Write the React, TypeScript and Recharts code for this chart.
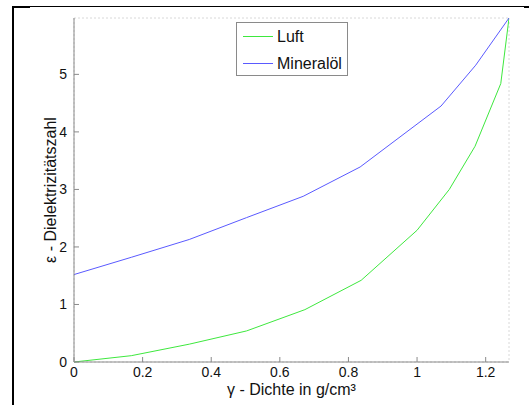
import { CartesianGrid, Label, Line, LineChart, XAxis, YAxis } from "recharts";

// Luft (air) curve
const LUFT_X = [0, 0.167, 0.336, 0.503, 0.673, 0.837, 1.0, 1.094, 1.169, 1.244, 1.268];
const LUFT_Y = [0, 0.11, 0.31, 0.54, 0.91, 1.42, 2.29, 3.0, 3.75, 4.84, 5.98];

// Mineralöl curve
const OEL_X = [0, 0.167, 0.336, 0.503, 0.668, 0.834, 1.07, 1.171, 1.268];
const OEL_Y = [1.52, 1.82, 2.13, 2.51, 2.88, 3.39, 4.45, 5.16, 5.98];

const X_TICKS = [0, 0.2, 0.4, 0.6, 0.8, 1, 1.2];
const Y_TICKS = [0, 1, 2, 3, 4, 5];

const luft = LUFT_X.map((x, i) => ({ x, y: LUFT_Y[i] }));
const oel = OEL_X.map((x, i) => ({ x, y: OEL_Y[i] }));

const FONT = '"Liberation Sans", Arial, sans-serif';
const AXIS = "#8a8a8a";
const GREEN = "#3ee83e";
const BLUE = "#5a5aff";

function LegendBox() {
  const row = (color: string, text: string) => (
    <div style={{ display: "flex", alignItems: "center", height: 27 }}>
      <div style={{ width: 30, height: 1, background: color, marginRight: 4 }} />
      <span>{text}</span>
    </div>
  );
  return (
    <div
      style={{
        position: "absolute",
        left: 236,
        top: 22,
        width: 112,
        height: 54,
        boxSizing: "border-box",
        border: `1px solid ${AXIS}`,
        background: "#fff",
        padding: "0 0 0 6px",
        fontFamily: FONT,
        fontSize: 16,
        color: "#111",
        lineHeight: "27px",
      }}
    >
      {row(GREEN, "Luft")}
      {row(BLUE, "Mineralöl")}
    </div>
  );
}

export default function App() {
  const tick = { fill: "#111", fontSize: 14, fontFamily: FONT };
  const labelStyle = { fill: "#111", fontSize: 16, fontFamily: FONT };
  return (
    <div style={{ position: "fixed", left: 0, top: 0, width: 529, height: 405, background: "#fff" }}>
      <div style={{ position: "absolute", left: 12, top: 6, width: 2, height: 399, background: "#000" }} />
      <div style={{ position: "absolute", left: 12, top: 6, width: 513, height: 1, background: "#000" }} />
      <div style={{ position: "absolute", left: 12, top: 6, width: 18, height: 2, background: "#000" }} />
      <div style={{ position: "absolute", left: 524, top: 6, width: 5, height: 2, background: "#000" }} />
      <LineChart width={529} height={405} margin={{ top: 18, right: 20, bottom: 13, left: 0 }} style={{ position: "absolute", left: 0, top: 0 }}>
        <CartesianGrid stroke="#d8d8d8" strokeDasharray="2 2" horizontal vertical />
        <XAxis
          xAxisId="b"
          type="number"
          dataKey="x"
          domain={[0, "dataMax"]}
          ticks={X_TICKS}
          allowDataOverflow
          height={30}
          stroke={AXIS}
          tick={tick}
          tickSize={-5}
          tickMargin={10}
        >
          <Label value="γ  - Dichte in g/cm³" position="center" dy={12} style={labelStyle} />
        </XAxis>
        <XAxis
          xAxisId="t"
          orientation="top"
          type="number"
          dataKey="x"
          domain={[0, "dataMax"]}
          ticks={X_TICKS}
          height={0}
          stroke={AXIS}
          tick={false}
          tickSize={-5}
        />
        <YAxis
          yAxisId="l"
          type="number"
          domain={[0, "dataMax"]}
          ticks={Y_TICKS}
          width={74}
          stroke={AXIS}
          tick={tick}
          tickSize={-5}
          tickMargin={12}
        >
          <Label value="ε -  Dielektrizitätszahl" position="center" angle={-90} dx={13} dy={0} style={labelStyle} />
        </YAxis>
        <YAxis
          yAxisId="r"
          orientation="right"
          type="number"
          domain={[0, "dataMax"]}
          ticks={Y_TICKS}
          width={0}
          stroke={AXIS}
          tick={false}
          tickSize={-5}
        />
        <Line
          xAxisId="b"
          yAxisId="l"
          data={luft}
          dataKey="y"
          name="Luft"
          stroke={GREEN}
          strokeWidth={1}
          dot={false}
          type="linear"
          isAnimationActive={false}
        />
        <Line
          xAxisId="b"
          yAxisId="l"
          data={oel}
          dataKey="y"
          name="Mineralöl"
          stroke={BLUE}
          strokeWidth={1}
          dot={false}
          type="linear"
          isAnimationActive={false}
        />
      </LineChart>
      <LegendBox />
    </div>
  );
}
